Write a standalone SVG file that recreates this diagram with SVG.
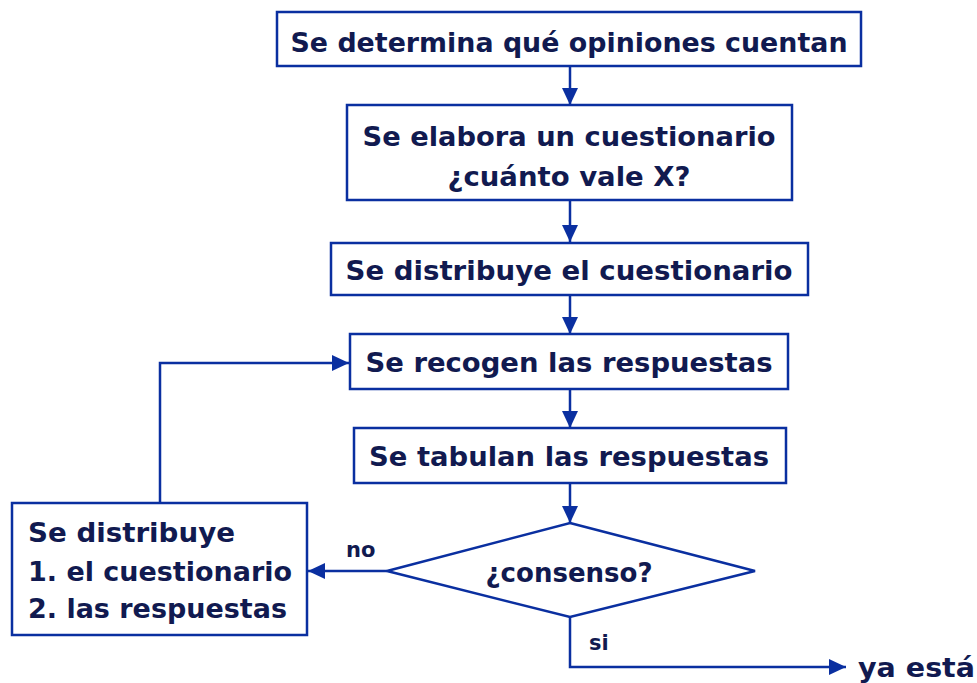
<svg xmlns="http://www.w3.org/2000/svg" width="977" height="683" viewBox="0 0 977 683">
<style>
.box{fill:#fff;stroke:#0a2fa0;stroke-width:2.5}
.ln{fill:none;stroke:#0a2fa0;stroke-width:2.5}
.t{font-family:"DejaVu Sans","Liberation Sans",sans-serif;font-weight:bold;font-size:27px;fill:#111a50}
.s{font-family:"DejaVu Sans","Liberation Sans",sans-serif;font-weight:bold;font-size:21px;fill:#111a50}
</style>
<defs>
<marker id="ah" markerWidth="10" markerHeight="10" refX="9" refY="5" orient="auto" markerUnits="userSpaceOnUse" viewBox="0 0 10 10">
<path d="M0,0 L10,5 L0,10 Z" fill="#0a2fa0" transform="scale(1)"/>
</marker>
<marker id="ahb" markerWidth="17" markerHeight="16" refX="17" refY="8" orient="auto" markerUnits="userSpaceOnUse">
<path d="M0,0 L17,8 L0,16 Z" fill="#0a2fa0"/>
</marker>
</defs>
<rect width="977" height="683" fill="#fff"/>
<g id="connectors">
<line class="ln" x1="570" y1="66" x2="570" y2="105" marker-end="url(#ahb)"/>
<line class="ln" x1="570" y1="200" x2="570" y2="242" marker-end="url(#ahb)"/>
<line class="ln" x1="570" y1="295" x2="570" y2="334" marker-end="url(#ahb)"/>
<line class="ln" x1="570" y1="389" x2="570" y2="428" marker-end="url(#ahb)"/>
<line class="ln" x1="570" y1="483" x2="570" y2="523" marker-end="url(#ahb)"/>
<polyline class="ln" points="387,571 308,571" marker-end="url(#ahb)"/>
<polyline class="ln" points="160,503 160,363 349,363" marker-end="url(#ahb)"/>
<polyline class="ln" points="570,617 570,667 846,667" marker-end="url(#ahb)"/>
<text class="s" x="346" y="557">no</text>
<text class="s" x="589" y="650">si</text>
</g>
<g id="n1">
<rect class="box" x="277" y="12" width="584" height="54"/>
<text class="t" x="569" y="52" text-anchor="middle" textLength="557" lengthAdjust="spacingAndGlyphs">Se determina qué opiniones cuentan</text>
</g>
<g id="n2">
<rect class="box" x="347" y="105" width="445" height="95"/>
<text class="t" x="569" y="146" text-anchor="middle" textLength="413" lengthAdjust="spacingAndGlyphs">Se elabora un cuestionario</text>
<text class="t" x="569" y="186" text-anchor="middle" textLength="243" lengthAdjust="spacingAndGlyphs">¿cuánto vale X?</text>
</g>
<g id="n3">
<rect class="box" x="331" y="243" width="477" height="52"/>
<text class="t" x="569" y="280" text-anchor="middle" textLength="447" lengthAdjust="spacingAndGlyphs">Se distribuye el cuestionario</text>
</g>
<g id="n4">
<rect class="box" x="350" y="334" width="438" height="55"/>
<text class="t" x="569" y="372" text-anchor="middle" textLength="407" lengthAdjust="spacingAndGlyphs">Se recogen las respuestas</text>
</g>
<g id="n5">
<rect class="box" x="354" y="428" width="432" height="55"/>
<text class="t" x="569" y="466" text-anchor="middle" textLength="400" lengthAdjust="spacingAndGlyphs">Se tabulan las respuestas</text>
</g>
<g id="n6">
<polygon class="box" points="570,523 755,571 570,617 387,571"/>
<text class="t" x="569" y="582" text-anchor="middle" textLength="167" lengthAdjust="spacingAndGlyphs">¿consenso?</text>
</g>
<g id="n7">
<rect class="box" x="12" y="503" width="295" height="132"/>
<text class="t" x="28" y="542" textLength="207" lengthAdjust="spacingAndGlyphs">Se distribuye</text>
<text class="t" x="28" y="581" textLength="264" lengthAdjust="spacingAndGlyphs">1. el cuestionario</text>
<text class="t" x="28" y="618" textLength="259" lengthAdjust="spacingAndGlyphs">2. las respuestas</text>
</g>
<g id="n8">
<text class="t" x="858" y="677" textLength="117" lengthAdjust="spacingAndGlyphs">ya está</text>
</g>
</svg>
